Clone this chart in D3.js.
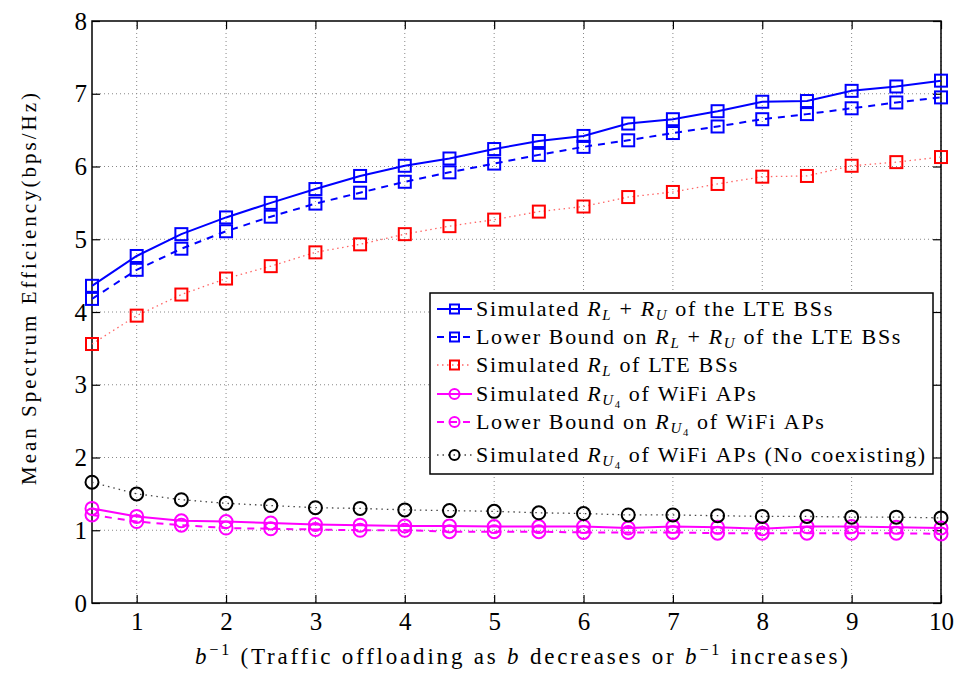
<!DOCTYPE html>
<html>
<head>
<meta charset="utf-8">
<script src="https://cdn.jsdelivr.net/npm/d3@7/dist/d3.min.js"></script>
</head>
<body style="margin:0;background:#fff">
<script>
// x = b^-1
const bInv = [0.5, 1, 1.5, 2, 2.5, 3, 3.5, 4, 4.5, 5, 5.5, 6, 6.5, 7, 7.5, 8, 8.5, 9, 9.5, 10]

const simLU   = [4.36, 4.77, 5.07, 5.30, 5.50, 5.69, 5.87, 6.01, 6.11, 6.24, 6.35, 6.42, 6.59, 6.65, 6.76, 6.89, 6.90, 7.04, 7.10, 7.18]
const boundLU = [4.18, 4.58, 4.87, 5.11, 5.31, 5.49, 5.64, 5.79, 5.92, 6.04, 6.16, 6.27, 6.36, 6.46, 6.55, 6.65, 6.72, 6.80, 6.88, 6.95]
const simL    = [3.56, 3.95, 4.24, 4.46, 4.63, 4.82, 4.93, 5.07, 5.18, 5.27, 5.38, 5.45, 5.58, 5.65, 5.76, 5.86, 5.87, 6.01, 6.06, 6.13]
const simU4   = [1.30, 1.19, 1.13, 1.12, 1.10, 1.08, 1.07, 1.06, 1.06, 1.05, 1.05, 1.05, 1.03, 1.05, 1.04, 1.02, 1.05, 1.05, 1.04, 1.03]
const boundU4 = [1.21, 1.12, 1.07, 1.03, 1.02, 1.01, 1.00, 1.00, 0.98, 0.98, 0.98, 0.97, 0.97, 0.97, 0.96, 0.96, 0.96, 0.96, 0.96, 0.95]
const noCoex  = [1.66, 1.50, 1.42, 1.37, 1.34, 1.31, 1.30, 1.28, 1.27, 1.26, 1.24, 1.23, 1.21, 1.21, 1.20, 1.19, 1.19, 1.18, 1.18, 1.17]

const xTicks = [1, 2, 3, 4, 5, 6, 7, 8, 9, 10]
const yTicks = [0, 1, 2, 3, 4, 5, 6, 7, 8]

// legend labels: [text, kind]  n = roman, i = italic, s = subscript, ss = sub-subscript
const legendLabels = [
  [["Simulated ", "n"], ["R", "i"], ["L", "s"], [" + ", "n"], ["R", "i"], ["U", "s"], [" of the LTE BSs", "n"]],
  [["Lower Bound on ", "n"], ["R", "i"], ["L", "s"], [" + ", "n"], ["R", "i"], ["U", "s"], [" of the LTE BSs", "n"]],
  [["Simulated ", "n"], ["R", "i"], ["L", "s"], [" of LTE BSs", "n"]],
  [["Simulated ", "n"], ["R", "i"], ["U", "s"], ["4", "ss"], [" of WiFi APs", "n"]],
  [["Lower Bound on ", "n"], ["R", "i"], ["U", "s"], ["4", "ss"], [" of WiFi APs", "n"]],
  [["Simulated ", "n"], ["R", "i"], ["U", "s"], ["4", "ss"], [" of WiFi APs (No coexisting)", "n"]]
]
const xLabel = [["b", "i"], ["−1", "sup"], [" (Traffic offloading as ", "n"], ["b", "i"], [" decreases or ", "n"],
                ["b", "i"], ["−1", "sup"], [" increases)", "n"]]
const yLabel = "Mean Spectrum Efficiency(bps/Hz)"

const series = [
  {values: simLU,   color: "#0000ff", dash: null,      width: 2,   marker: "square"},
  {values: boundLU, color: "#0000ff", dash: "7,6",     width: 2,   marker: "square"},
  {values: simL,    color: "#ff0000", dash: "1.5,3.5", width: 1.3, marker: "square", lineColor: "#ff6666"},
  {values: simU4,   color: "#ff00ff", dash: null,      width: 2,   marker: "circle"},
  {values: boundU4, color: "#ff00ff", dash: "7,6",     width: 2,   marker: "circle"},
  {values: noCoex,  color: "#000000", dash: "1.5,4",   width: 1.3, marker: "circle", lineColor: "#444"}
]

const FONT = `"Liberation Serif", Tinos, "Times New Roman", serif`
const W = 956, H = 677
const margin = {top: 21, right: 15, bottom: 74, left: 92}
const width = W - margin.left - margin.right,
      height = H - margin.top - margin.bottom

const svg = d3.select("body").append("svg")
  .attr("width", W).attr("height", H)
  .attr("font-family", FONT)

const g = svg.append("g").attr("transform", `translate(${margin.left},${margin.top})`)

const x = d3.scaleLinear().domain([0.5, 10]).range([0, width])
const y = d3.scaleLinear().domain([0, 8]).range([height, 0])

// grid
g.append("g").selectAll("line").data(xTicks).enter().append("line")
  .attr("x1", d => x(d)).attr("x2", d => x(d)).attr("y1", 0).attr("y2", height)
  .attr("stroke", "#888").attr("stroke-width", 1).attr("stroke-dasharray", "1,3")
g.append("g").selectAll("line").data(yTicks.slice(1, -1)).enter().append("line")
  .attr("y1", d => y(d)).attr("y2", d => y(d)).attr("x1", 0).attr("x2", width)
  .attr("stroke", "#888").attr("stroke-width", 1).attr("stroke-dasharray", "1,3")

// axes, ticks pointing inward on all four sides
const axisFont = g => g.attr("font-family", FONT).attr("font-size", 25)
  .selectAll("text").attr("fill", "#000")
g.append("g").attr("transform", `translate(0,${height})`)
  .call(d3.axisBottom(x).tickValues(xTicks).tickSizeInner(-8).tickSizeOuter(0).tickPadding(9).tickFormat(d3.format("d")))
  .call(axisFont)
g.append("g")
  .call(d3.axisLeft(y).tickValues(yTicks).tickSizeInner(-8).tickSizeOuter(0).tickPadding(5).tickFormat(d3.format("d")))
  .call(axisFont)
g.append("g")
  .call(d3.axisTop(x).tickValues(xTicks).tickSizeInner(-8).tickSizeOuter(0).tickFormat(""))
g.append("g").attr("transform", `translate(${width},0)`)
  .call(d3.axisRight(y).tickValues(yTicks).tickSizeInner(-8).tickSizeOuter(0).tickFormat(""))
g.selectAll(".domain").remove()
g.selectAll(".tick line").attr("stroke", "#000").attr("stroke-width", 1.2)
g.append("rect").attr("width", width).attr("height", height)
  .attr("fill", "none").attr("stroke", "#000").attr("stroke-width", 1.5)

function drawMarker(sel, type, color, size) {
  if (type === "square") {
    return sel.append("rect")
      .attr("x", -size).attr("y", -size).attr("width", size * 2).attr("height", size * 2)
      .attr("fill", "none").attr("stroke", color).attr("stroke-width", 2)
  }
  return sel.append("circle").attr("r", size)
    .attr("fill", "none").attr("stroke", color).attr("stroke-width", 2)
}

const line = d3.line().x((d, i) => x(bInv[i])).y(d => y(d))

series.forEach(s => {
  g.append("path").datum(s.values)
    .attr("d", line)
    .attr("fill", "none")
    .attr("stroke", s.lineColor || s.color)
    .attr("stroke-width", s.width)
    .attr("stroke-dasharray", s.dash)
  const pts = g.append("g").selectAll("g").data(s.values).enter().append("g")
    .attr("transform", (d, i) => `translate(${x(bInv[i])},${y(d)})`)
  drawMarker(pts, s.marker, s.color, s.marker === "square" ? 6 : 6.5)
})

// spaces kept as no-break spaces so tspans do not lose them
function rich(t, parts, size) {
  let cur = 0
  parts.forEach(([str, k]) => {
    const off = {n: 0, i: 0, s: size * 0.22, ss: size * 0.32, sup: -size * 0.38}[k]
    const fs = {n: size, i: size, s: size * 0.68, ss: size * 0.48, sup: size * 0.7}[k]
    t.append("tspan")
      .attr("dy", off - cur)
      .attr("font-size", fs)
      .attr("font-style", (k === "i" || k === "s") ? "italic" : "normal")
      .text(str.replace(/ /g, "\u00a0"))
    cur = off
  })
}

// legend
const lg = svg.append("g")
lg.append("rect").attr("x", 430).attr("y", 293).attr("width", 503).attr("height", 181)
  .attr("fill", "#fff").attr("stroke", "#000").attr("stroke-width", 1.5)
const rowY = [309, 337, 365, 394, 422, 455]
series.forEach((s, i) => {
  const row = lg.append("g").attr("transform", `translate(0,${rowY[i]})`)
  row.append("line").attr("x1", 437).attr("x2", 472)
    .attr("stroke", s.lineColor || s.color).attr("stroke-width", s.width)
    .attr("stroke-dasharray", s.dash)
  const m = row.append("g").attr("transform", "translate(454.5,0)")
  drawMarker(m, s.marker, s.color, s.marker === "square" ? 4.5 : 5)
  const t = row.append("text").attr("x", 476).attr("y", 6.5)
    .attr("letter-spacing", 1.65)
  rich(t, legendLabels[i], 22)
})

// axis labels
svg.append("text")
  .attr("transform", "translate(36,289) rotate(-90)")
  .attr("text-anchor", "middle")
  .attr("font-size", 21)
  .attr("textLength", 392).attr("lengthAdjust", "spacing")
  .text(yLabel)

const xl = svg.append("text").attr("x", 195).attr("y", 664)
  .attr("letter-spacing", 2.8)
rich(xl, xLabel, 23)
</script>
</body>
</html>
